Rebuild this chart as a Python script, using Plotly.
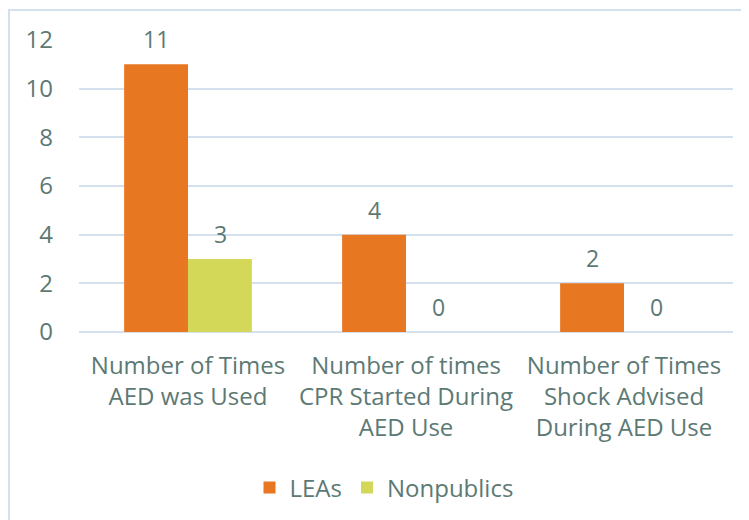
import plotly.graph_objects as go

categories = ["Number of Times<br>AED was Used",
              "Number of times<br>CPR Started During<br>AED Use",
              "Number of Times<br>Shock Advised<br>During AED Use"]
leas = [11, 4, 2]
nonpublics = [3, 0, 0]
y_ticks = [0, 2, 4, 6, 8, 10, 12]

TEXT = "#5c7974"
FONT = "Open Sans"
ORANGE = "#e87722"
GREEN = "#d4d858"
FS = 24

# page offset of the figure (browser body margin)
OFF = 8
W, H = 749 - OFF, 520 - OFF
# plot area in page pixels
PL, PR, PT, PB = 79, 733, 40, 332
L, T = PL - OFF, PT - OFF
R = W - (PR - OFF)
B = H - (PB - OFF)
pw, ph = PR - PL, PB - PT

fig = go.Figure()
fig.add_trace(go.Bar(x=categories, y=leas, name="LEAs", marker_color=ORANGE,
                     marker_line_width=0))
fig.add_trace(go.Bar(x=categories, y=nonpublics, name="Nonpublics", marker_color=GREEN,
                     marker_line_width=0))

annotations = []
for series, off in [(leas, -0.5), (nonpublics, 0.5)]:
    for c, v in zip(categories, series):
        annotations.append(dict(x=c, y=v, xref="x", yref="y", text=str(v),
                                showarrow=False, yanchor="middle", yshift=25,
                                xshift=off * 64, font=dict(family=FONT, size=FS - 1, color=TEXT)))

def px_x(p):
    return (p - PL) / pw

def px_y(p):
    return (PB - p) / ph

fig.update_layout(
    width=W, height=H,
    margin=dict(l=L, r=R, t=T, b=B, autoexpand=False),
    paper_bgcolor="white", plot_bgcolor="white",
    barmode="group", bargap=0.414, bargroupgap=0,
    font=dict(family=FONT, size=FS, color=TEXT),
    xaxis=dict(showgrid=False, showline=False, ticks="", ticklabelstandoff=17,
               tickfont=dict(size=FS, color=TEXT)),
    yaxis=dict(range=[0, 12], tickvals=y_ticks, showgrid=True, gridcolor="#d5e0ef",
               gridwidth=1.5, zeroline=True, zerolinecolor="#d5e0ef", zerolinewidth=1.5,
               ticks="", ticklabelstandoff=25, tickfont=dict(size=FS, color=TEXT)),
    legend=dict(orientation="h", x=px_x(384), xanchor="center", y=px_y(488), yanchor="middle",
                font=dict(size=FS, color=TEXT), itemwidth=30, traceorder="normal"),
    annotations=annotations,
    shapes=[dict(type="rect", xref="paper", yref="paper",
                 x0=px_x(9), x1=px_x(770), y0=px_y(540), y1=px_y(10),
                 line=dict(color="#d5e0ef", width=2), layer="below")],
)

fig.write_html("out.html")
